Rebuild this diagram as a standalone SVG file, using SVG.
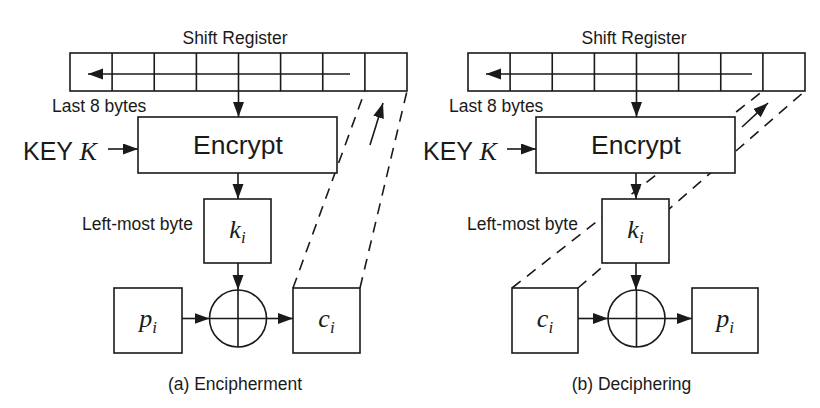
<svg xmlns="http://www.w3.org/2000/svg" width="820" height="408" viewBox="0 0 820 408">
<style>
.box{fill:#fff;stroke:#1a1a1a;stroke-width:1.6}
.ln{fill:none;stroke:#1a1a1a;stroke-width:1.6}
.dash{fill:none;stroke:#1a1a1a;stroke-width:1.6;stroke-dasharray:11 8}
.lbl{font-family:"Liberation Sans",Arial,sans-serif;font-size:17.5px;fill:#1a1a1a}
.big{font-family:"Liberation Sans",Arial,sans-serif;font-size:26.5px;fill:#1a1a1a}
.key{font-family:"Liberation Sans",Arial,sans-serif;font-size:25px;fill:#1a1a1a}
.var{font-family:"Liberation Serif","Times New Roman",serif;font-style:italic;font-size:26px;fill:#1a1a1a}
.sub{font-size:17px}
</style>
<defs>
<marker id="ah" markerUnits="userSpaceOnUse" markerWidth="16" markerHeight="12" refX="15" refY="5.5" orient="auto">
<path d="M0,0 L15,5.5 L0,11 z" fill="#1a1a1a"/>
</marker>
</defs>

<g id="connectors">
<!-- left panel -->
<line class="dash" x1="293" y1="288" x2="364.9" y2="91"/>
<line class="dash" x1="360" y1="288" x2="407" y2="91"/>
<line class="ln" x1="370" y1="145" x2="383" y2="103" marker-end="url(#ah)"/>
<line class="ln" x1="238.5" y1="91" x2="238.5" y2="117" marker-end="url(#ah)"/>
<line class="ln" x1="108" y1="149" x2="138" y2="149" marker-end="url(#ah)"/>
<line class="ln" x1="238" y1="173" x2="238" y2="199" marker-end="url(#ah)"/>
<line class="ln" x1="238" y1="263" x2="238" y2="290" marker-end="url(#ah)"/>
<line class="ln" x1="182" y1="318.5" x2="209.5" y2="318.5" marker-end="url(#ah)"/>
<line class="ln" x1="266.5" y1="318.5" x2="293" y2="318.5" marker-end="url(#ah)"/>
<!-- right panel -->
<line class="dash" x1="512" y1="288" x2="762.9" y2="91"/>
<line class="dash" x1="578" y1="288" x2="805" y2="91"/>
<line class="ln" x1="742" y1="127" x2="768" y2="103" marker-end="url(#ah)"/>
<line class="ln" x1="636.5" y1="91" x2="636.5" y2="117" marker-end="url(#ah)"/>
<line class="ln" x1="507" y1="149" x2="536" y2="149" marker-end="url(#ah)"/>
<line class="ln" x1="636" y1="173" x2="636" y2="199" marker-end="url(#ah)"/>
<line class="ln" x1="636" y1="263" x2="636" y2="290" marker-end="url(#ah)"/>
<line class="ln" x1="578" y1="318.5" x2="608" y2="318.5" marker-end="url(#ah)"/>
<line class="ln" x1="665" y1="318.5" x2="692" y2="318.5" marker-end="url(#ah)"/>
</g>

<!-- Left panel: Encipherment -->
<g id="a-shift-register">
<text class="lbl" x="235" y="44" text-anchor="middle">Shift Register</text>
<rect class="box" x="70" y="53" width="337" height="38"/>
<path class="ln" d="M112.1,53V91M154.25,53V91M196.4,53V91M238.5,53V91M280.6,53V91M322.75,53V91M364.9,53V91"/>
<line class="ln" x1="350" y1="74" x2="88" y2="74" marker-end="url(#ah)"/>
<text class="lbl" x="52" y="112">Last 8 bytes</text>
</g>
<g id="a-key">
<text class="key" x="23" y="160">KEY <tspan class="var" font-size="25">K</tspan></text>
</g>
<g id="a-encrypt">
<rect class="box" x="138" y="117" width="199" height="56"/>
<text class="big" x="238" y="154" text-anchor="middle">Encrypt</text>
</g>
<g id="a-ki">
<text class="lbl" x="82" y="230">Left-most byte</text>
<rect class="box" x="204" y="199" width="67" height="64"/>
<text class="var" x="237.5" y="238" text-anchor="middle">k<tspan class="sub" dy="5">i</tspan></text>
</g>
<g id="a-xor">
<circle class="box" cx="238" cy="318.5" r="28.5"/>
<path class="ln" d="M209.5,318.5H266.5M238,290V347"/>
</g>
<g id="a-pi">
<rect class="box" x="114" y="288" width="68" height="65"/>
<text class="var" x="148" y="327" text-anchor="middle">p<tspan class="sub" dy="6">i</tspan></text>
</g>
<g id="a-ci">
<rect class="box" x="293" y="288" width="67" height="65"/>
<text class="var" x="326.5" y="327" text-anchor="middle">c<tspan class="sub" dy="6">i</tspan></text>
</g>
<text class="lbl" x="235" y="390" text-anchor="middle">(a) Encipherment</text>

<!-- Right panel: Deciphering -->
<g id="b-shift-register">
<text class="lbl" x="634" y="44" text-anchor="middle">Shift Register</text>
<rect class="box" x="468" y="53" width="337" height="38"/>
<path class="ln" d="M510.1,53V91M552.25,53V91M594.4,53V91M636.5,53V91M678.6,53V91M720.75,53V91M762.9,53V91"/>
<line class="ln" x1="752" y1="74" x2="486" y2="74" marker-end="url(#ah)"/>
<text class="lbl" x="449" y="112">Last 8 bytes</text>
</g>
<g id="b-key">
<text class="key" x="423" y="160">KEY <tspan class="var" font-size="25">K</tspan></text>
</g>
<g id="b-encrypt">
<rect class="box" x="536" y="117" width="199" height="56"/>
<text class="big" x="636" y="154" text-anchor="middle">Encrypt</text>
</g>
<g id="b-ki">
<text class="lbl" x="467" y="230">Left-most byte</text>
<rect class="box" x="602" y="199" width="67" height="64"/>
<text class="var" x="635.5" y="238" text-anchor="middle">k<tspan class="sub" dy="5">i</tspan></text>
</g>
<g id="b-xor">
<circle class="box" cx="636.5" cy="318.5" r="28.5"/>
<path class="ln" d="M608,318.5H665M636.5,290V347"/>
</g>
<g id="b-ci">
<rect class="box" x="512" y="288" width="66" height="65"/>
<text class="var" x="545" y="327" text-anchor="middle">c<tspan class="sub" dy="6">i</tspan></text>
</g>
<g id="b-pi">
<rect class="box" x="692" y="288" width="66" height="65"/>
<text class="var" x="725" y="327" text-anchor="middle">p<tspan class="sub" dy="6">i</tspan></text>
</g>
<text class="lbl" x="631.5" y="390" text-anchor="middle">(b) Deciphering</text>
</svg>
